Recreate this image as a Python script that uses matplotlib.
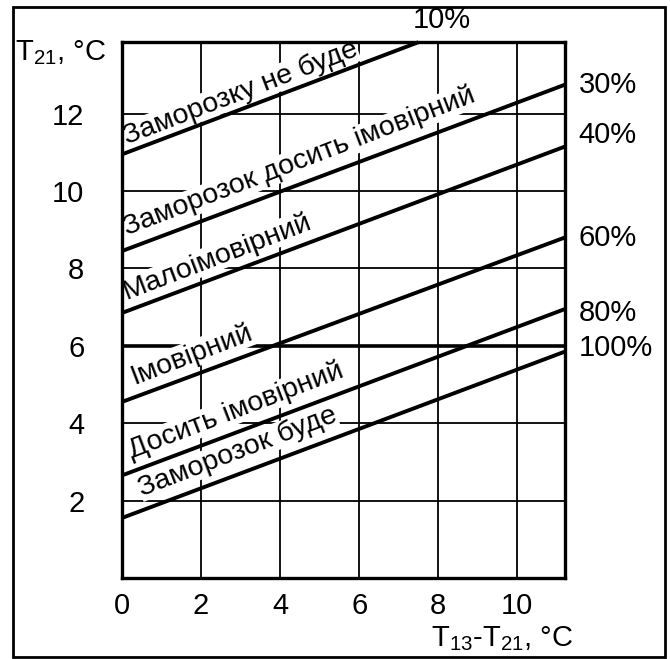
import matplotlib.pyplot as plt
from matplotlib.patches import Rectangle

plt.rcParams['font.family'] = ['Liberation Sans', 'DejaVu Sans']
plt.rcParams['mathtext.fontset'] = 'custom'
plt.rcParams['mathtext.rm'] = 'Liberation Sans'

# line end points (x = T13-T21, y = T21)
percents = ['10%', '30%', '40%', '60%', '80%', '100%']
x_start = [0, 0, 0, 0, 0, 0]
y_start = [10.95, 8.45, 6.85, 4.55, 2.65, 1.55]
x_end = [7.5, 11.2, 11.2, 11.2, 11.2, 11.2]
y_end = [13.85, 12.75, 11.15, 8.8, 6.95, 5.85]

zones = ['Заморозку не буде', 'Заморозок досить імовірний', 'Малоімовірний',
         'Імовірний', 'Досить імовірний', 'Заморозок буде']
zone_x = [0.12, 0.12, 0.12, 0.3, 0.25, 0.5]
zone_y = [11.22, 8.85, 7.2, 5.0, 3.1, 2.12]

xticks = [0, 2, 4, 6, 8, 10]
yticks = [2, 4, 6, 8, 10, 12]

fig = plt.figure(figsize=(6.7, 6.59), dpi=100)
ax = fig.add_axes([0.182, 0.123, 0.661, 0.813])
ax.set_xlim(0, 11.2)
ax.set_ylim(0, 13.85)

for v in xticks[1:]:
    ax.axvline(v, color='black', lw=1.3, zorder=1)
for v in yticks:
    ax.axhline(v, color='black', lw=2.6 if v == 6 else 1.3, zorder=1)

for i in range(len(percents)):
    ax.plot([x_start[i], x_end[i]], [y_start[i], y_end[i]], color='black',
            lw=2.8, solid_capstyle='butt', zorder=2, clip_on=False)

# percent labels outside the axes
pct_x = [7.35, 11.55, 11.55, 11.55, 11.55, 11.55]
pct_y = [14.42, 12.74, 11.45, 8.79, 6.85, 5.94]
for i in range(len(percents)):
    ax.text(pct_x[i], pct_y[i], percents[i], fontsize=21, va='center', ha='left',
            clip_on=False)

# zone names sit on white patches that hide the grid, under the curves
for i in range(len(zones)):
    ax.text(zone_x[i], zone_y[i], zones[i], fontsize=20.5, rotation=21,
            rotation_mode='anchor', ha='left', va='baseline', zorder=1.5,
            bbox=dict(facecolor='white', edgecolor='none', pad=0.3))

ax.set_xticks(xticks)
ax.set_yticks(yticks)
ax.tick_params(length=0, labelsize=21)
ax.tick_params(axis='x', pad=10)
ax.tick_params(axis='y', pad=27)
for s in ax.spines.values():
    s.set_linewidth(2.4)

fig.text(0.022, 0.908, r'T$_{\mathregular{21}}$, °C', fontsize=21, ha='left', va='baseline')
fig.text(0.643, 0.02, r'T$_{\mathregular{13}}$-T$_{\mathregular{21}}$, °C', fontsize=21,
         ha='left', va='baseline')

fig.patches.append(Rectangle((0.019, 0.003), 0.974, 0.986, transform=fig.transFigure,
                             fill=False, edgecolor='black', lw=2))

fig.savefig('out.png', dpi=100)
